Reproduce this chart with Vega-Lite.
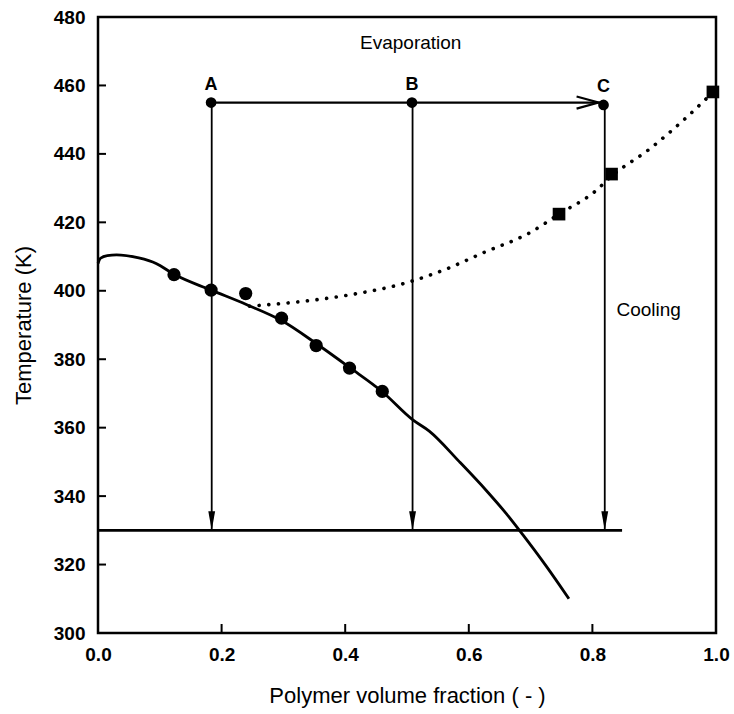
{
  "$schema": "https://vega.github.io/schema/vega-lite/v6.json",
  "width": 618,
  "height": 616,
  "autosize": {"type": "none"},
  "padding": {"left": 98, "top": 17, "right": 18, "bottom": 81},
  "background": "white",
  "config": {
    "font": "Liberation Sans",
    "view": {"stroke": "black", "strokeWidth": 2.5},
    "axis": {
      "domain": false,
      "grid": false,
      "ticks": false,
      "labelFlush": false,
      "labelColor": "black",
      "labelFont": "Liberation Sans",
      "labelFontWeight": "bold",
      "labelFontSize": 19,
      "titleFont": "Liberation Sans",
      "titleFontSize": 22,
      "titleFontWeight": "normal",
      "titleColor": "black"
    }
  },
  "datasets": {
    "solid": [
      {"x": 0.0, "y": 408.0}, {"x": 0.004, "y": 409.5}, {"x": 0.015, "y": 410.3}, {"x": 0.03, "y": 410.5},
      {"x": 0.066, "y": 409.6}, {"x": 0.094, "y": 408.0}, {"x": 0.123, "y": 404.8}, {"x": 0.183, "y": 400.2},
      {"x": 0.24, "y": 396.0}, {"x": 0.297, "y": 391.3}, {"x": 0.353, "y": 384.6}, {"x": 0.407, "y": 377.6},
      {"x": 0.46, "y": 370.5}, {"x": 0.51, "y": 362.2}, {"x": 0.536, "y": 359.0}, {"x": 0.585, "y": 350.0},
      {"x": 0.629, "y": 341.5}, {"x": 0.661, "y": 334.8}, {"x": 0.687, "y": 328.8}, {"x": 0.725, "y": 319.6},
      {"x": 0.762, "y": 310.0}
    ],
    "dotted": [
      {"x": 0.245, "y": 395.5}, {"x": 0.326, "y": 396.8}, {"x": 0.407, "y": 398.8}, {"x": 0.504, "y": 402.6},
      {"x": 0.564, "y": 406.4}, {"x": 0.622, "y": 411.0}, {"x": 0.699, "y": 417.0}, {"x": 0.746, "y": 422.4},
      {"x": 0.804, "y": 429.0}, {"x": 0.831, "y": 433.5}, {"x": 0.893, "y": 441.5}, {"x": 0.953, "y": 450.8},
      {"x": 0.995, "y": 458.0}
    ],
    "measured": [
      {"x": 0.123, "y": 404.7}, {"x": 0.183, "y": 400.2}, {"x": 0.239, "y": 399.2}, {"x": 0.297, "y": 392.0},
      {"x": 0.353, "y": 384.0}, {"x": 0.407, "y": 377.4}, {"x": 0.46, "y": 370.6}
    ],
    "squares": [
      {"x": 0.746, "y": 422.4}, {"x": 0.831, "y": 434.1}, {"x": 0.995, "y": 458.1}
    ],
    "states": [
      {"x": 0.183, "y": 455.0, "label": "A"}, {"x": 0.508, "y": 455.0, "label": "B"}, {"x": 0.818, "y": 454.3, "label": "C"}
    ],
    "verticals": [
      {"x": 0.184, "y": 455.0, "y2": 330.0}, {"x": 0.509, "y": 455.0, "y2": 330.0}, {"x": 0.82, "y": 454.3, "y2": 330.0}
    ],
    "tips": [
      {"x": 0.184, "y": 330.0}, {"x": 0.509, "y": 330.0}, {"x": 0.82, "y": 330.0}
    ],
    "evap": [{"x": 0.183, "x2": 0.815, "y": 455.0}],
    "evapTip": [{"x": 0.81, "y": 455.0}],
    "base": [{"x": 0.0, "x2": 0.848, "y": 330.0}],
    "notes": [
      {"x": 0.506, "y": 472.5, "label": "Evaporation"},
      {"x": 0.891, "y": 394.5, "label": "Cooling"}
    ],
    "xticks": [
      {"x": 0.2, "y": 300}, {"x": 0.4, "y": 300}, {"x": 0.6, "y": 300}, {"x": 0.8, "y": 300}
    ],
    "yticks": [
      {"x": 0, "y": 320}, {"x": 0, "y": 340}, {"x": 0, "y": 360}, {"x": 0, "y": 380},
      {"x": 0, "y": 400}, {"x": 0, "y": 420}, {"x": 0, "y": 440}, {"x": 0, "y": 460}
    ]
  },
  "encoding": {
    "x": {
      "field": "x", "type": "quantitative",
      "scale": {"domain": [0, 1], "nice": false, "zero": false},
      "axis": {"values": [0, 0.2, 0.4, 0.6, 0.8, 1.0], "format": ".1f", "labelPadding": 12, "titlePadding": 21, "title": "Polymer volume fraction ( - )"}
    },
    "y": {
      "field": "y", "type": "quantitative",
      "scale": {"domain": [300, 480], "nice": false, "zero": false},
      "axis": {"values": [300, 320, 340, 360, 380, 400, 420, 440, 460, 480], "labelPadding": 13, "titlePadding": 18, "title": "Temperature (K)"}
    }
  },
  "layer": [
    {"data": {"name": "xticks"}, "mark": {"type": "tick", "orient": "vertical", "size": 9, "thickness": 2, "color": "black", "opacity": 1, "yOffset": -4.5}},
    {"data": {"name": "yticks"}, "mark": {"type": "tick", "orient": "horizontal", "size": 8, "thickness": 2, "color": "black", "opacity": 1, "xOffset": 4}},
    {"data": {"name": "solid"}, "mark": {"type": "line", "color": "black", "strokeWidth": 2.8, "interpolate": "monotone"}},
    {"data": {"name": "dotted"}, "mark": {"type": "line", "color": "black", "strokeWidth": 3.6, "strokeCap": "round", "strokeDash": [0.1, 9.6], "interpolate": "monotone"}},
    {"data": {"name": "base"}, "mark": {"type": "rule", "color": "black", "strokeWidth": 2.6}, "encoding": {"x2": {"field": "x2"}}},
    {"data": {"name": "evap"}, "mark": {"type": "rule", "color": "black", "strokeWidth": 2.2}, "encoding": {"x2": {"field": "x2"}}},
    {"data": {"name": "verticals"}, "mark": {"type": "rule", "color": "black", "strokeWidth": 1.8}, "encoding": {"y2": {"field": "y2"}}},
    {"data": {"name": "tips"}, "mark": {"type": "point", "shape": "M0,0L-0.36,-2L0.36,-2Z", "filled": true, "color": "black", "opacity": 1, "size": 361}},
    {"data": {"name": "evapTip"}, "mark": {"type": "point", "shape": "M-2,-0.55L0,0L-2,0.55", "filled": false, "color": "black", "opacity": 1, "strokeWidth": 2.2, "size": 484}},
    {"data": {"name": "measured"}, "mark": {"type": "circle", "color": "black", "opacity": 1, "size": 175}},
    {"data": {"name": "squares"}, "mark": {"type": "square", "color": "black", "opacity": 1, "size": 160}},
    {"data": {"name": "states"}, "mark": {"type": "circle", "color": "black", "opacity": 1, "size": 115}},
    {"data": {"name": "states"}, "mark": {"type": "text", "font": "Liberation Sans", "fontWeight": "bold", "fontSize": 18, "dy": -18, "color": "black"}, "encoding": {"text": {"field": "label"}}},
    {"data": {"name": "notes"}, "mark": {"type": "text", "font": "Liberation Sans", "fontSize": 19, "color": "black"}, "encoding": {"text": {"field": "label"}}}
  ]
}
